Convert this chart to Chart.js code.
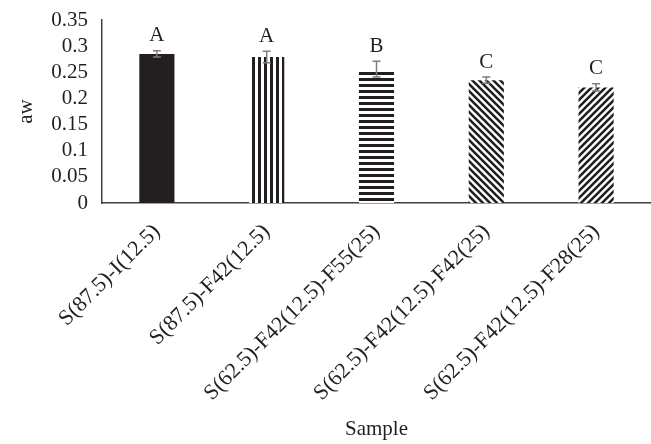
<!DOCTYPE html>
<html>
<head>
<meta charset="utf-8">
<script src="https://cdn.jsdelivr.net/npm/chart.js@4"></script>
<style>
  html, body { margin: 0; padding: 0; background: #fff; }
  #wrap { width: 651px; height: 444px; }
</style>
</head>
<body>
<div id="wrap"><canvas id="chart" width="651" height="444"></canvas></div>
<script>
const samples = ['S(87.5)-I(12.5)', 'S(87.5)-F42(12.5)', 'S(62.5)-F42(12.5)-F55(25)', 'S(62.5)-F42(12.5)-F42(25)', 'S(62.5)-F42(12.5)-F28(25)']
const aw = [0.285, 0.279, 0.256, 0.235, 0.221]
const awError = [0.006, 0.011, 0.015, 0.006, 0.007]
const groups = ['A', 'A', 'B', 'C', 'C']

const ink = '#231f20'
const serif = "'Liberation Serif', 'Times New Roman', serif"

// pattern fills like the excel ones
function makePattern(kind) {
  const size = kind === 'diagDown' || kind === 'diagUp' ? 7 : 6
  const c = document.createElement('canvas')
  c.width = size
  c.height = size
  const g = c.getContext('2d')
  g.fillStyle = '#fff'
  g.fillRect(0, 0, size, size)
  g.fillStyle = ink
  g.strokeStyle = ink
  if (kind === 'vertical') {
    g.fillRect(0, 0, 3, size)
  } else if (kind === 'horizontal') {
    g.fillRect(0, 0, size, 3)
  } else {
    g.lineWidth = 2.6
    g.beginPath()
    for (let k = -1; k <= 1; k++) {
      if (kind === 'diagDown') {
        g.moveTo(k * size - 1, -1)
        g.lineTo(k * size + size + 1, size + 1)
      } else {
        g.moveTo(k * size - 1, size + 1)
        g.lineTo(k * size + size + 1, -1)
      }
    }
    g.stroke()
  }
  return g.createPattern(c, 'repeat')
}

const fills = [ink, makePattern('vertical'), makePattern('horizontal'), makePattern('diagDown'), makePattern('diagUp')]

const errorBars = {
  id: 'errorBars',
  afterDatasetsDraw(chart) {
    const ctx = chart.ctx
    const y = chart.scales.y
    const bars = chart.getDatasetMeta(0).data
    ctx.save()
    bars.forEach((bar, i) => {
      const top = y.getPixelForValue(aw[i] + awError[i])
      const bottom = y.getPixelForValue(aw[i] - awError[i])
      ctx.strokeStyle = '#7f7f7f'
      ctx.lineWidth = 1.5
      ctx.beginPath()
      ctx.moveTo(bar.x, top)
      ctx.lineTo(bar.x, bottom)
      ctx.moveTo(bar.x - 4, top)
      ctx.lineTo(bar.x + 4, top)
      ctx.moveTo(bar.x - 4, bottom)
      ctx.lineTo(bar.x + 4, bottom)
      ctx.stroke()

      ctx.fillStyle = ink
      ctx.font = '21px ' + serif
      ctx.textAlign = 'center'
      ctx.textBaseline = 'middle'
      ctx.fillText(groups[i], bar.x, top - 15)
    })
    ctx.restore()
  }
}

new Chart(document.getElementById('chart'), {
  type: 'bar',
  data: {
    labels: samples,
    datasets: [{
      label: 'aw',
      data: aw,
      backgroundColor: fills,
      borderWidth: 0,
      barPercentage: 0.32,
      categoryPercentage: 1
    }]
  },
  options: {
    responsive: false,
    animation: false,
    layout: { padding: { top: 20, left: 0, right: 0, bottom: 2 } },
    plugins: {
      legend: { display: false },
      tooltip: { enabled: false }
    },
    scales: {
      x: {
        afterFit: s => { s.height = 239 },
        grid: { display: false },
        border: { display: true, color: '#404040', width: 1.5 },
        ticks: {
          color: ink,
          font: { family: serif, size: 22 },
          minRotation: 45,
          maxRotation: 45,
          autoSkip: false,
          padding: 8
        },
        title: {
          display: true,
          text: 'Sample',
          color: ink,
          font: { family: serif, size: 21 },
          padding: { top: 4, bottom: 0 }
        }
      },
      y: {
        afterFit: s => { s.width = 102 },
        min: 0,
        max: 0.35,
        grid: { display: false },
        border: { display: true, color: '#404040', width: 1.5 },
        ticks: {
          stepSize: 0.05,
          autoSkip: false,
          color: ink,
          font: { family: serif, size: 21 },
          padding: 6,
          callback: v => String(+v.toFixed(2))
        },
        title: {
          display: true,
          text: 'aw',
          color: ink,
          font: { family: serif, size: 21 },
          padding: { top: 14, bottom: 6 }
        }
      }
    }
  },
  plugins: [errorBars]
})
</script>
</body>
</html>
